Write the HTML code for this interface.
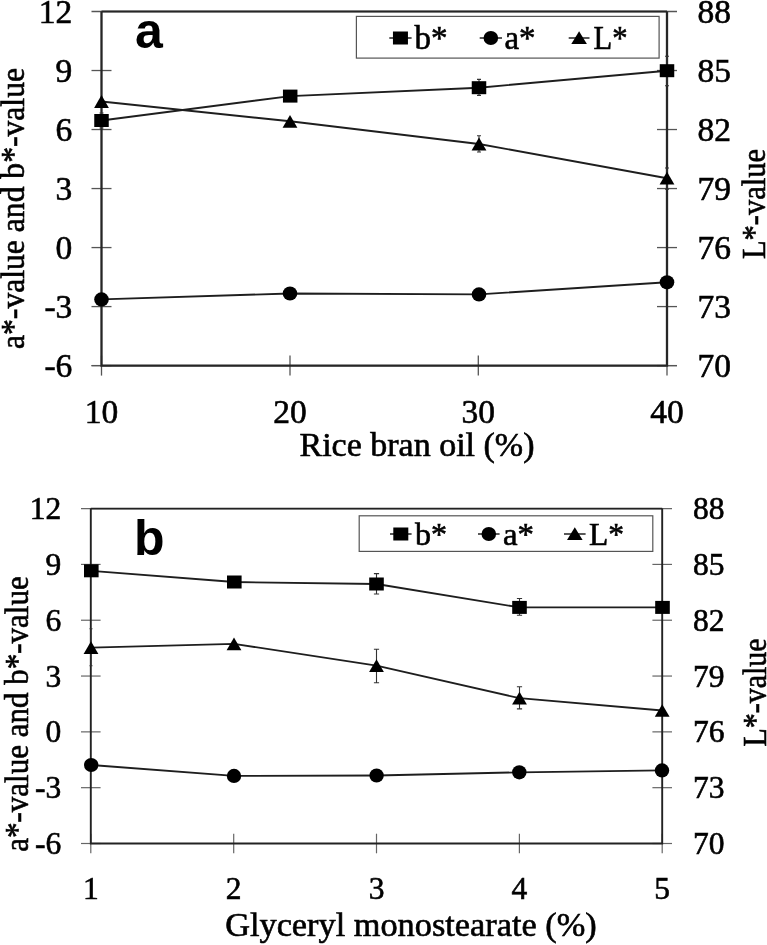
<!DOCTYPE html>
<html><head><meta charset="utf-8"><title>Colour values chart</title>
<style>
html,body{margin:0;padding:0;background:#fff}
svg{display:block}
text{font-family:"Liberation Serif",serif;fill:#000;stroke:#000;stroke-width:0.6px;paint-order:stroke fill}
</style></head>
<body>
<svg width="767" height="945" viewBox="0 0 767 945">
<rect width="767" height="945" fill="#fff"/>
<g id="chart-a">
<line x1="91.5" y1="70.52" x2="111.5" y2="70.52" stroke="#555" stroke-width="1.3"/>
<line x1="657" y1="70.52" x2="677" y2="70.52" stroke="#555" stroke-width="1.3"/>
<line x1="91.5" y1="129.53" x2="111.5" y2="129.53" stroke="#555" stroke-width="1.3"/>
<line x1="657" y1="129.53" x2="677" y2="129.53" stroke="#555" stroke-width="1.3"/>
<line x1="91.5" y1="188.55" x2="111.5" y2="188.55" stroke="#555" stroke-width="1.3"/>
<line x1="657" y1="188.55" x2="677" y2="188.55" stroke="#555" stroke-width="1.3"/>
<line x1="91.5" y1="247.57" x2="111.5" y2="247.57" stroke="#555" stroke-width="1.3"/>
<line x1="657" y1="247.57" x2="677" y2="247.57" stroke="#555" stroke-width="1.3"/>
<line x1="91.5" y1="306.58" x2="111.5" y2="306.58" stroke="#555" stroke-width="1.3"/>
<line x1="657" y1="306.58" x2="677" y2="306.58" stroke="#555" stroke-width="1.3"/>
<line x1="91.5" y1="365.6" x2="111.5" y2="365.6" stroke="#555" stroke-width="1.3"/>
<line x1="657" y1="365.6" x2="677" y2="365.6" stroke="#555" stroke-width="1.3"/>
<line x1="101.5" y1="355.6" x2="101.5" y2="375.6" stroke="#555" stroke-width="1.3"/>
<line x1="290" y1="355.6" x2="290" y2="375.6" stroke="#555" stroke-width="1.3"/>
<line x1="478.3" y1="355.6" x2="478.3" y2="375.6" stroke="#555" stroke-width="1.3"/>
<line x1="667" y1="355.6" x2="667" y2="375.6" stroke="#555" stroke-width="1.3"/>
<line x1="91.5" y1="11.5" x2="677" y2="11.5" stroke="#555" stroke-width="1.3"/>
<line x1="101.5" y1="11.5" x2="667" y2="11.5" stroke="#262626" stroke-width="2.0"/>
<line x1="91.5" y1="365.6" x2="677" y2="365.6" stroke="#555" stroke-width="1.3"/>
<path d="M101.5 11.5V365.6H667V11.5" fill="none" stroke="#262626" stroke-width="2.3" stroke-linejoin="miter"/>
<path d="M479 79.4V95.4M477 79.4H481M477 95.4H481" fill="none" stroke="#333" stroke-width="1.1"/>
<path d="M479 135.7V152M477 135.7H481M477 152H481" fill="none" stroke="#333" stroke-width="1.1"/>
<path d="M667 56.3V85.7M665 56.3H669M665 85.7H669" fill="none" stroke="#333" stroke-width="1.1"/>
<path d="M667 168V189.2M665 168H669M665 189.2H669" fill="none" stroke="#333" stroke-width="1.1"/>
<path d="M101.5 113V128M99.5 113H103.5M99.5 128H103.5" fill="none" stroke="#333" stroke-width="1.1"/>
<path d="M101.5 120.5 L290.2 96.1 L479 87.7 L667 70.7" fill="none" stroke="#1e1e1e" stroke-width="1.9" stroke-linejoin="round"/>
<path d="M101.5 101.5 L290 121.3 L479 144 L667 178.2" fill="none" stroke="#1e1e1e" stroke-width="1.9" stroke-linejoin="round"/>
<path d="M101.5 299.4 L290 293.5 L479 294.4 L667 282.3" fill="none" stroke="#1e1e1e" stroke-width="1.9" stroke-linejoin="round"/>
<rect x="94.25" y="114" width="14.5" height="13" fill="#000"/>
<rect x="282.95" y="89.6" width="14.5" height="13" fill="#000"/>
<rect x="471.75" y="81.2" width="14.5" height="13" fill="#000"/>
<rect x="659.75" y="64.2" width="14.5" height="13" fill="#000"/>
<path d="M101.5 95.1L108.9 107.9H94.1Z" fill="#000"/>
<path d="M290 114.9L297.4 127.7H282.6Z" fill="#000"/>
<path d="M479 137.6L486.4 150.4H471.6Z" fill="#000"/>
<path d="M667 171.8L674.4 184.6H659.6Z" fill="#000"/>
<ellipse cx="101.5" cy="299.4" rx="7.3" ry="7.1" fill="#000"/>
<ellipse cx="290" cy="293.5" rx="7.3" ry="7.1" fill="#000"/>
<ellipse cx="479" cy="294.4" rx="7.3" ry="7.1" fill="#000"/>
<ellipse cx="667" cy="282.3" rx="7.3" ry="7.1" fill="#000"/>
<rect x="356.4" y="16.4" width="302.7" height="41.7" fill="#fff" stroke="#555" stroke-width="1.2"/>
<line x1="389.3" y1="38" x2="411.6" y2="38" stroke="#222" stroke-width="1.5"/>
<rect x="392.95" y="31.5" width="15" height="13" fill="#000"/>
<text x="414.5" y="49" font-size="33" textLength="33" lengthAdjust="spacingAndGlyphs">b*</text>
<line x1="479.7" y1="38" x2="502" y2="38" stroke="#222" stroke-width="1.5"/>
<ellipse cx="490.85" cy="38" rx="7.3" ry="7" fill="#000"/>
<text x="504.5" y="49" font-size="33" textLength="31" lengthAdjust="spacingAndGlyphs">a*</text>
<line x1="568.7" y1="38" x2="589.5" y2="38" stroke="#222" stroke-width="1.5"/>
<path d="M579.1 31.2L586.9 44H571.3Z" fill="#000"/>
<text x="593.5" y="49" font-size="33" textLength="34" lengthAdjust="spacingAndGlyphs">L*</text>
<text x="72.3" y="22.8" font-size="33.5" text-anchor="end">12</text>
<text x="72.3" y="81.82" font-size="33.5" text-anchor="end">9</text>
<text x="72.3" y="140.83" font-size="33.5" text-anchor="end">6</text>
<text x="72.3" y="199.85" font-size="33.5" text-anchor="end">3</text>
<text x="72.3" y="258.87" font-size="33.5" text-anchor="end">0</text>
<text x="72.3" y="317.88" font-size="33.5" text-anchor="end">-3</text>
<text x="72.3" y="376.9" font-size="33.5" text-anchor="end">-6</text>
<text x="697.5" y="22.8" font-size="33.5">88</text>
<text x="697.5" y="81.82" font-size="33.5">85</text>
<text x="697.5" y="140.83" font-size="33.5">82</text>
<text x="697.5" y="199.85" font-size="33.5">79</text>
<text x="697.5" y="258.87" font-size="33.5">76</text>
<text x="697.5" y="317.88" font-size="33.5">73</text>
<text x="697.5" y="376.9" font-size="33.5">70</text>
<text x="101.5" y="422.6" font-size="33.5" text-anchor="middle">10</text>
<text x="290" y="422.6" font-size="33.5" text-anchor="middle">20</text>
<text x="478.3" y="422.6" font-size="33.5" text-anchor="middle">30</text>
<text x="667" y="422.6" font-size="33.5" text-anchor="middle">40</text>
<text x="299.5" y="455.6" font-size="33" textLength="235" lengthAdjust="spacingAndGlyphs">Rice bran oil (%)</text>
<text transform="translate(24.4 349) rotate(-90)" font-size="34" textLength="281" lengthAdjust="spacingAndGlyphs">a*-value and b*-value</text>
<text transform="translate(764.8 259) rotate(-90)" font-size="34" textLength="110" lengthAdjust="spacingAndGlyphs">L*-value</text>
<text x="135" y="48.3" font-size="50" style="font-family:'Liberation Sans',sans-serif;font-weight:bold;stroke:none">a</text>
</g>
<g id="chart-b">
<line x1="81" y1="564.42" x2="100.6" y2="564.42" stroke="#666" stroke-width="1.2"/>
<line x1="652.4" y1="564.42" x2="672" y2="564.42" stroke="#666" stroke-width="1.2"/>
<line x1="81" y1="620.23" x2="100.6" y2="620.23" stroke="#666" stroke-width="1.2"/>
<line x1="652.4" y1="620.23" x2="672" y2="620.23" stroke="#666" stroke-width="1.2"/>
<line x1="81" y1="676.05" x2="100.6" y2="676.05" stroke="#666" stroke-width="1.2"/>
<line x1="652.4" y1="676.05" x2="672" y2="676.05" stroke="#666" stroke-width="1.2"/>
<line x1="81" y1="731.87" x2="100.6" y2="731.87" stroke="#666" stroke-width="1.2"/>
<line x1="652.4" y1="731.87" x2="672" y2="731.87" stroke="#666" stroke-width="1.2"/>
<line x1="81" y1="787.68" x2="100.6" y2="787.68" stroke="#666" stroke-width="1.2"/>
<line x1="652.4" y1="787.68" x2="672" y2="787.68" stroke="#666" stroke-width="1.2"/>
<line x1="81" y1="843.5" x2="100.6" y2="843.5" stroke="#666" stroke-width="1.2"/>
<line x1="652.4" y1="843.5" x2="672" y2="843.5" stroke="#666" stroke-width="1.2"/>
<line x1="90.8" y1="833.7" x2="90.8" y2="853.3" stroke="#666" stroke-width="1.2"/>
<line x1="233.7" y1="833.7" x2="233.7" y2="853.3" stroke="#666" stroke-width="1.2"/>
<line x1="376.5" y1="833.7" x2="376.5" y2="853.3" stroke="#666" stroke-width="1.2"/>
<line x1="519.4" y1="833.7" x2="519.4" y2="853.3" stroke="#666" stroke-width="1.2"/>
<line x1="662.2" y1="833.7" x2="662.2" y2="853.3" stroke="#666" stroke-width="1.2"/>
<line x1="81" y1="508.6" x2="672" y2="508.6" stroke="#666" stroke-width="1.2"/>
<line x1="90.8" y1="508.6" x2="662.2" y2="508.6" stroke="#222" stroke-width="1.7"/>
<line x1="81" y1="843.5" x2="672" y2="843.5" stroke="#666" stroke-width="1.2"/>
<path d="M90.8 508.6V843.5H662.2V508.6" fill="none" stroke="#222" stroke-width="1.9" stroke-linejoin="miter"/>
<path d="M376.5 573.6V594M373.9 573.6H379.1M373.9 594H379.1" fill="none" stroke="#333" stroke-width="1.1"/>
<path d="M376.5 649.3V682.7M373.9 649.3H379.1M373.9 682.7H379.1" fill="none" stroke="#333" stroke-width="1.1"/>
<path d="M519.5 598.5V615.3M516.9 598.5H522.1M516.9 615.3H522.1" fill="none" stroke="#333" stroke-width="1.1"/>
<path d="M519.5 686.7V708.9M516.9 686.7H522.1M516.9 708.9H522.1" fill="none" stroke="#333" stroke-width="1.1"/>
<path d="M91 628.8V665.8M89.5 628.8H92.5M89.5 665.8H92.5" fill="none" stroke="#333" stroke-width="1.1"/>
<path d="M91.3 570.8 L234.3 582 L376.5 584 L519.5 607.4 L662.5 607.4" fill="none" stroke="#1e1e1e" stroke-width="1.8" stroke-linejoin="round"/>
<path d="M91 647.6 L234 643.9 L376.5 665.6 L519.5 698.2 L662.2 710.5" fill="none" stroke="#1e1e1e" stroke-width="1.8" stroke-linejoin="round"/>
<path d="M91.2 765 L234 775.9 L376.6 775.5 L519.3 772.3 L662 770.4" fill="none" stroke="#1e1e1e" stroke-width="1.8" stroke-linejoin="round"/>
<rect x="84" y="564.3" width="14.6" height="13" fill="#000"/>
<rect x="227" y="575.5" width="14.6" height="13" fill="#000"/>
<rect x="369.2" y="577.5" width="14.6" height="13" fill="#000"/>
<rect x="512.2" y="600.9" width="14.6" height="13" fill="#000"/>
<rect x="655.2" y="600.9" width="14.6" height="13" fill="#000"/>
<path d="M91 641.25L98.4 653.95H83.6Z" fill="#000"/>
<path d="M234 637.55L241.4 650.25H226.6Z" fill="#000"/>
<path d="M376.5 659.25L383.9 671.95H369.1Z" fill="#000"/>
<path d="M519.5 691.85L526.9 704.55H512.1Z" fill="#000"/>
<path d="M662.2 704.15L669.6 716.85H654.8Z" fill="#000"/>
<ellipse cx="91.2" cy="765" rx="7.2" ry="7.1" fill="#000"/>
<ellipse cx="234" cy="775.9" rx="7.2" ry="7.1" fill="#000"/>
<ellipse cx="376.6" cy="775.5" rx="7.2" ry="7.1" fill="#000"/>
<ellipse cx="519.3" cy="772.3" rx="7.2" ry="7.1" fill="#000"/>
<ellipse cx="662" cy="770.4" rx="7.2" ry="7.1" fill="#000"/>
<rect x="359.2" y="515.8" width="293.6" height="35.6" fill="#fff" stroke="#555" stroke-width="1.2"/>
<line x1="390" y1="534" x2="411.6" y2="534" stroke="#222" stroke-width="1.5"/>
<rect x="393.3" y="527.5" width="15" height="13" fill="#000"/>
<text x="415" y="544.8" font-size="32" textLength="32" lengthAdjust="spacingAndGlyphs">b*</text>
<line x1="478" y1="534" x2="499.6" y2="534" stroke="#222" stroke-width="1.5"/>
<ellipse cx="488.8" cy="534" rx="7.3" ry="7" fill="#000"/>
<text x="503" y="544.8" font-size="32" textLength="31" lengthAdjust="spacingAndGlyphs">a*</text>
<line x1="564" y1="534" x2="585.6" y2="534" stroke="#222" stroke-width="1.5"/>
<path d="M574.8 527.2L582.6 540H567Z" fill="#000"/>
<text x="589" y="544.8" font-size="32" textLength="35" lengthAdjust="spacingAndGlyphs">L*</text>
<text x="61.2" y="519.1" font-size="31.5" text-anchor="end">12</text>
<text x="61.2" y="574.92" font-size="31.5" text-anchor="end">9</text>
<text x="61.2" y="630.73" font-size="31.5" text-anchor="end">6</text>
<text x="61.2" y="686.55" font-size="31.5" text-anchor="end">3</text>
<text x="61.2" y="742.37" font-size="31.5" text-anchor="end">0</text>
<text x="61.2" y="798.18" font-size="31.5" text-anchor="end">-3</text>
<text x="61.2" y="854" font-size="31.5" text-anchor="end">-6</text>
<text x="693" y="519.1" font-size="31.5">88</text>
<text x="693" y="574.92" font-size="31.5">85</text>
<text x="693" y="630.73" font-size="31.5">82</text>
<text x="693" y="686.55" font-size="31.5">79</text>
<text x="693" y="742.37" font-size="31.5">76</text>
<text x="693" y="798.18" font-size="31.5">73</text>
<text x="693" y="854" font-size="31.5">70</text>
<text x="90.8" y="899.4" font-size="31.5" text-anchor="middle">1</text>
<text x="233.7" y="899.4" font-size="31.5" text-anchor="middle">2</text>
<text x="376.5" y="899.4" font-size="31.5" text-anchor="middle">3</text>
<text x="519.4" y="899.4" font-size="31.5" text-anchor="middle">4</text>
<text x="662.2" y="899.4" font-size="31.5" text-anchor="middle">5</text>
<text x="225.2" y="936.4" font-size="33" textLength="371.5" lengthAdjust="spacingAndGlyphs">Glyceryl monostearate (%)</text>
<text transform="translate(28.2 851.8) rotate(-90)" font-size="33" textLength="275.5" lengthAdjust="spacingAndGlyphs">a*-value and b*-value</text>
<text transform="translate(766 746.5) rotate(-90)" font-size="33" textLength="108" lengthAdjust="spacingAndGlyphs">L*-value</text>
<text x="134" y="555.3" font-size="50" style="font-family:'Liberation Sans',sans-serif;font-weight:bold;stroke:none">b</text>
</g>
</svg>
</body></html>
